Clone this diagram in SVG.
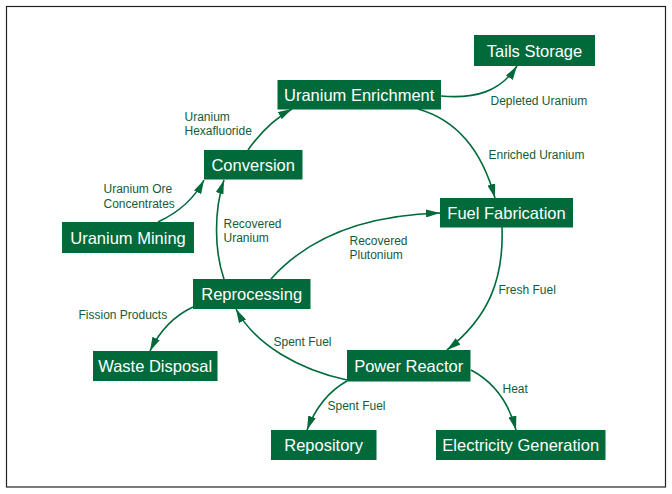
<svg xmlns="http://www.w3.org/2000/svg" width="672" height="494" viewBox="0 0 672 494">
<style>
.box{fill:#006a3b}
.nt{fill:#ffffff;font-family:"Liberation Sans",Arial,sans-serif;font-size:16.5px;text-anchor:middle}
.lb{fill:#145c36;font-family:"Liberation Sans",Arial,sans-serif;font-size:12px}
.c{fill:none;stroke:#006a3b;stroke-width:1.6;marker-end:url(#ah)}
</style>
<defs>
<marker id="ah" viewBox="0 0 14 8" refX="14" refY="4" markerWidth="14" markerHeight="8" markerUnits="userSpaceOnUse" orient="auto">
<path d="M0,0 L14,4 L0,8 z" fill="#006a3b"/>
</marker>
</defs>
<rect x="0" y="0" width="672" height="494" fill="#ffffff"/>
<rect x="6.5" y="6.5" width="659" height="480.5" fill="none" stroke="#222222" stroke-width="1.2"/>
<g id="connectors">
<path class="c" d="M158,222 Q190,207 204,180"/>
<path class="c" d="M248,150 Q268,122 292,109"/>
<path class="c" d="M441,96 C475,99 500,92 517,66"/>
<path class="c" d="M418,109 Q475,125 495,198"/>
<path class="c" d="M502,227 C504,280 488,318 447,350"/>
<path class="c" d="M271,279 C310,235 370,215 440,213"/>
<path class="c" d="M224,279 C214,250 214,210 224,180"/>
<path class="c" d="M193,307 Q165,320 150,351"/>
<path class="c" d="M347,380 C300,370 255,345 236,309"/>
<path class="c" d="M347,381 Q320,396 307,430"/>
<path class="c" d="M471,370 Q505,388 516,430"/>
</g>
<g id="labels">
<text class="lb" x="490.5" y="105">Depleted Uranium</text>
<text class="lb" x="488.5" y="159">Enriched Uranium</text>
<text class="lb" x="184.5" y="121">Uranium</text>
<text class="lb" x="184.5" y="135">Hexafluoride</text>
<text class="lb" x="103.5" y="193">Uranium Ore</text>
<text class="lb" x="103.5" y="207.5">Concentrates</text>
<text class="lb" x="223.5" y="228">Recovered</text>
<text class="lb" x="223.5" y="242">Uranium</text>
<text class="lb" x="349.5" y="245">Recovered</text>
<text class="lb" x="349.5" y="259">Plutonium</text>
<text class="lb" x="498.5" y="294">Fresh Fuel</text>
<text class="lb" x="78.5" y="319">Fission Products</text>
<text class="lb" x="273.5" y="346">Spent Fuel</text>
<text class="lb" x="327.5" y="410">Spent Fuel</text>
<text class="lb" x="502.5" y="393">Heat</text>
</g>
<g id="tails-storage"><rect class="box" x="474" y="35" width="121" height="31"/><text class="nt" x="534.5" y="56.5">Tails Storage</text></g>
<g id="uranium-enrichment"><rect class="box" x="277.5" y="80" width="163.5" height="29.5"/><text class="nt" x="359.2" y="100.7">Uranium Enrichment</text></g>
<g id="conversion"><rect class="box" x="204" y="150" width="98.5" height="29.5"/><text class="nt" x="253.2" y="170.7">Conversion</text></g>
<g id="uranium-mining"><rect class="box" x="62" y="222" width="132" height="31"/><text class="nt" x="128" y="243.5">Uranium Mining</text></g>
<g id="fuel-fabrication"><rect class="box" x="440" y="198" width="133" height="29.5"/><text class="nt" x="506.5" y="218.7">Fuel Fabrication</text></g>
<g id="reprocessing"><rect class="box" x="193" y="279" width="117.5" height="30"/><text class="nt" x="251.7" y="300">Reprocessing</text></g>
<g id="waste-disposal"><rect class="box" x="93" y="351" width="124.5" height="30"/><text class="nt" x="155.2" y="372">Waste Disposal</text></g>
<g id="power-reactor"><rect class="box" x="347" y="350" width="123.5" height="31.5"/><text class="nt" x="408.7" y="371.7">Power Reactor</text></g>
<g id="repository"><rect class="box" x="271" y="430" width="105.5" height="30"/><text class="nt" x="323.7" y="451">Repository</text></g>
<g id="electricity-generation"><rect class="box" x="436" y="430" width="169.5" height="30"/><text class="nt" x="520.7" y="451">Electricity Generation</text></g>
</svg>
